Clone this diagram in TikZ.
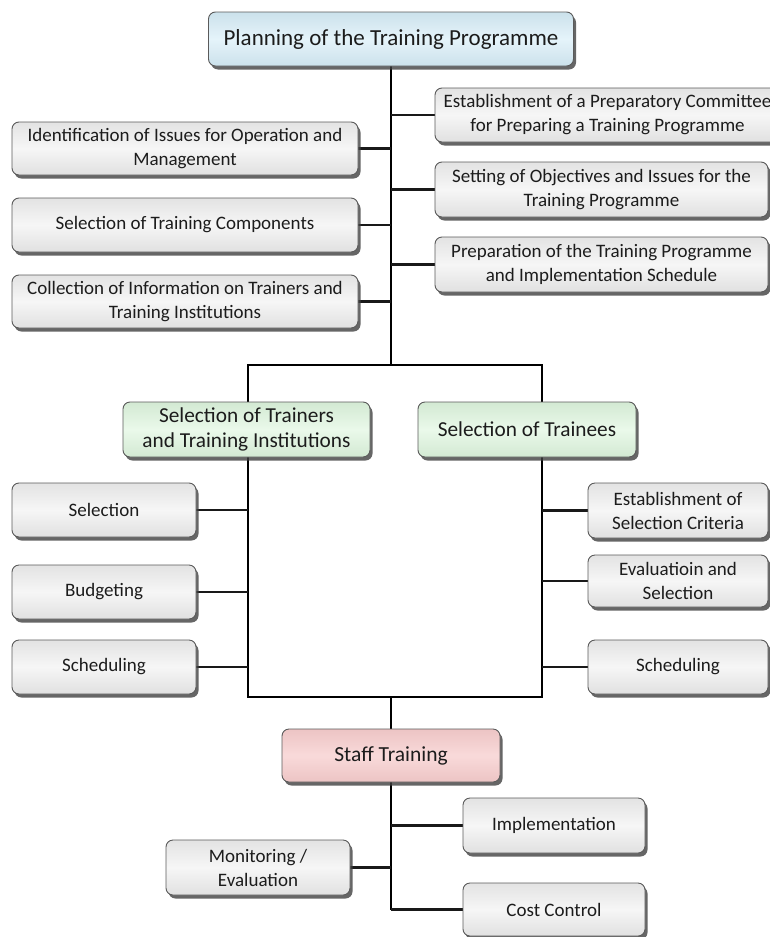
\documentclass[tikz,border=0pt]{standalone}
\usepackage{fontspec}
\setmainfont{Carlito}
\usetikzlibrary{shadows,backgrounds}

\definecolor{planfill}{RGB}{212,236,247}
\definecolor{selfill}{RGB}{220,245,220}
\definecolor{stafffill}{RGB}{246,202,202}
\definecolor{boxedge}{RGB}{90,90,90}
\definecolor{boxtext}{RGB}{28,28,28}

\tikzset{
  box/.style={rounded corners=7pt, draw=boxedge, line width=0.9pt, align=center,
    text=boxtext, inner sep=0pt,
    drop shadow={shadow xshift=2.5pt, shadow yshift=-3.5pt, fill=black!75, opacity=0.8}},
  graybox/.style={box, top color=gray!22, bottom color=gray!24, middle color=gray!7,
    font=\fontsize{19}{24}\selectfont},
  planbox/.style={box, top color=planfill!90!gray, bottom color=planfill!90!gray,
    middle color=planfill!60!white, font=\fontsize{23}{27}\selectfont},
  selbox/.style={box, top color=selfill!90!gray, bottom color=selfill!90!gray,
    middle color=selfill!60!white, font=\fontsize{21.3}{25.5}\selectfont},
  staffbox/.style={box, top color=stafffill!92!gray, bottom color=stafffill!92!gray,
    middle color=stafffill!70!white, font=\fontsize{21.5}{26}\selectfont},
  trunk/.style={line width=2.6pt, black, line join=miter},
  branch/.style={line width=2.2pt, black!90}
}

\begin{document}
\begin{tikzpicture}[x=1pt, y=-1pt]
\useasboundingbox (0,0) rectangle (770,937);

% planning stage
\node[planbox, minimum width=365pt, minimum height=54pt] (plan) at (391,39)
  {Planning of the Training Programme};

\node[graybox, minimum width=346pt, minimum height=53pt] (L1) at (185,148.5)
  {Identification of Issues for Operation and\\Management};
\node[graybox, minimum width=346pt, minimum height=54pt] (L2) at (185,225)
  {Selection of Training Components};
\node[graybox, minimum width=346pt, minimum height=53pt] (L3) at (185,301.5)
  {Collection of Information on Trainers and\\Training Institutions};

\node[graybox, minimum width=345pt, minimum height=54pt] (R1) at (607.5,115)
  {Establishment of a Preparatory Committee\\for Preparing a Training Programme};
\node[graybox, minimum width=333pt, minimum height=55pt] (R2) at (601.5,189.5)
  {Setting of Objectives and Issues for the\\Training Programme};
\node[graybox, minimum width=333pt, minimum height=55pt] (R3) at (601.5,264.5)
  {Preparation of the Training Programme\\and Implementation Schedule};

% selection stage
\node[selbox, minimum width=247pt, minimum height=55pt] (trn) at (246.5,429.5)
  {Selection of Trainers\\and Training Institutions};
\node[selbox, minimum width=218pt, minimum height=55pt] (tee) at (527,429.5)
  {Selection of Trainees};

\node[graybox, minimum width=184pt, minimum height=54pt] (S1) at (104,510) {Selection};
\node[graybox, minimum width=184pt, minimum height=54pt] (S2) at (104,592) {Budgeting};
\node[graybox, minimum width=184pt, minimum height=54pt] (S3) at (104,667) {Scheduling};

\node[graybox, minimum width=180pt, minimum height=55pt] (T1) at (678,510.5)
  {Establishment of\\Selection Criteria};
\node[graybox, minimum width=180pt, minimum height=52pt] (T2) at (678,581)
  {Evaluatioin and\\Selection};
\node[graybox, minimum width=180pt, minimum height=54pt] (T3) at (678,667) {Scheduling};

% training stage
\node[staffbox, minimum width=218pt, minimum height=53pt] (staff) at (391,755.5)
  {Staff Training};
\node[graybox, minimum width=182pt, minimum height=55pt] (impl) at (554,825.5)
  {Implementation};
\node[graybox, minimum width=182pt, minimum height=53pt] (cost) at (554,909.5)
  {Cost Control};
\node[graybox, minimum width=184pt, minimum height=55pt] (mon) at (258,867.5)
  {Monitoring /\\Evaluation};

% junctions of the frame
\coordinate (jL) at (248,365);
\coordinate (jM) at (391,365);
\coordinate (jR) at (542,365);
\coordinate (bL) at (248,697);
\coordinate (bM) at (391,697);
\coordinate (bR) at (542,697);

\begin{pgfonlayer}{background}
  \draw[trunk] (plan.south) -- (jM);
  \draw[trunk] (jL) -- (jR) -- (bR) -- (bL) -- cycle;
  \draw[trunk] (bM) -- (staff.north);
  \draw[trunk] (staff.south) -- (cost.west -| bM);

  \foreach \n in {L1,L2,L3} \draw[branch] (\n.east) -- (\n.east -| jM);
  \foreach \n in {R1,R2,R3} \draw[branch] (\n.west) -- (\n.west -| jM);
  \foreach \n in {S1,S2,S3} \draw[branch] (\n.east) -- (\n.east -| jL);
  \foreach \n in {T1,T2,T3} \draw[branch] (\n.west) -- (\n.west -| jR);
  \draw[branch] (impl.west) -- (impl.west -| bM);
  \draw[branch] (cost.west) -- (cost.west -| bM);
  \draw[branch] (mon.east) -- (mon.east -| bM);
\end{pgfonlayer}
\end{tikzpicture}
\end{document}
